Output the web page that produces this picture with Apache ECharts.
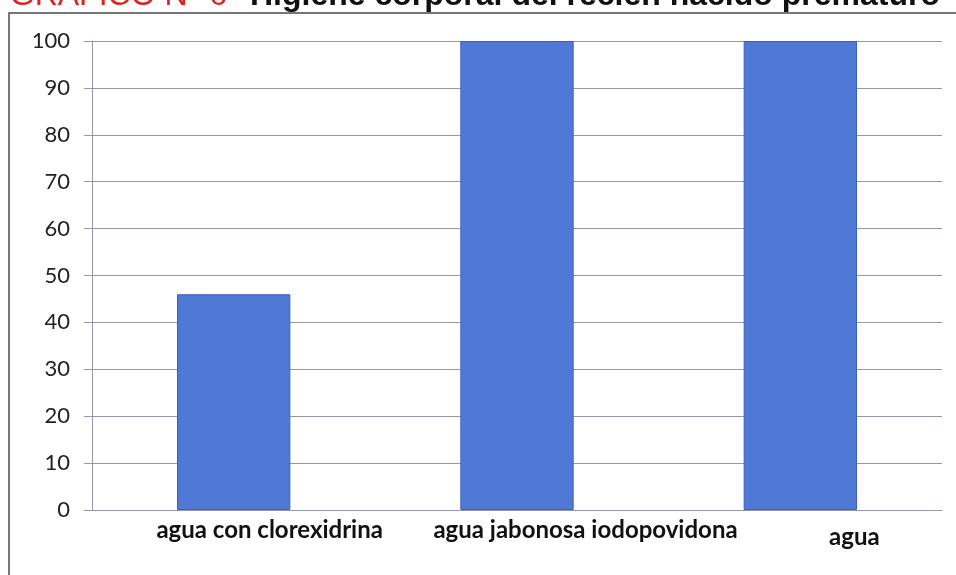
<!DOCTYPE html>
<html>
<head>
<meta charset="utf-8">
<script src="https://cdn.jsdelivr.net/npm/echarts@6/dist/echarts.min.js"></script>
<style>
  html, body { margin: 0; padding: 0; background: #ffffff; }
  #chart { width: 956px; height: 575px; }
</style>
</head>
<body>
<div id="chart"></div>
<script>
// Higiene corporal del recién nacido prematuro — porcentaje por método
const categories = ['agua con clorexidrina', 'agua jabonosa iodopovidona', 'agua'];
const values = [46, 100, 100];
const yTicks = [0, 10, 20, 30, 40, 50, 60, 70, 80, 90, 100];

const titleRed = 'GRÁFICO N° 6';
const titleBlack = 'Higiene corporal del recién nacido prematuro';

// per-label rich style keys so each category label can be nudged
const labelStyles = ['l0', 'l1', 'l2'];

const gridColor = '#9696aa';
const labelFont = { fontFamily: 'Lato', fontWeight: 'bold', fontSize: 24, color: '#111' };

const chart = echarts.init(document.getElementById('chart'), null, { renderer: 'canvas' });

chart.setOption({
  backgroundColor: '#ffffff',
  animation: false,
  grid: { left: 92, right: 14, top: 41, bottom: 65, containLabel: false },
  xAxis: {
    type: 'category',
    data: categories,
    axisLine: { show: true, lineStyle: { color: gridColor, width: 1 } },
    axisTick: { show: false },
    axisLabel: {
      interval: 0,
      margin: 8,
      formatter: function (value, idx) {
        return '{' + labelStyles[idx] + '|' + value + '}';
      },
      rich: {
        l0: Object.assign({ padding: [0, 0, 0, 72] }, labelFont),
        l1: Object.assign({ padding: [0, 0, 0, 137] }, labelFont),
        l2: Object.assign({ padding: [7, 0, 0, 108] }, labelFont)
      }
    }
  },
  yAxis: {
    type: 'value',
    min: yTicks[0],
    max: yTicks[yTicks.length - 1],
    interval: yTicks[1] - yTicks[0],
    axisLine: { show: true, lineStyle: { color: gridColor, width: 1 } },
    axisTick: { show: true, length: 8, lineStyle: { color: gridColor, width: 1 } },
    splitLine: { show: true, lineStyle: { color: gridColor, width: 1 } },
    axisLabel: {
      margin: 22,
      fontFamily: 'Lato',
      fontSize: 22,
      color: '#222'
    }
  },
  series: [{
    type: 'bar',
    data: values,
    barWidth: '40%',
    itemStyle: { color: '#5079d6', borderColor: '#3a5ec6', borderWidth: 1 }
  }],
  graphic: [
    {
      type: 'rect',
      silent: true,
      z: 100,
      shape: { x: 9, y: 13, width: 1000, height: 700 },
      style: { fill: 'none', stroke: '#4a4a4a', lineWidth: 1.5 }
    },
    {
      type: 'text',
      silent: true,
      z: 101,
      x: 227,
      y: 12,
      style: {
        text: titleRed,
        align: 'right',
        verticalAlign: 'bottom',
        fontFamily: 'Liberation Sans',
        fontSize: 32,
        fill: '#e0211c'
      }
    },
    {
      type: 'text',
      silent: true,
      z: 101,
      x: 250,
      y: 12,
      style: {
        text: titleBlack,
        align: 'left',
        verticalAlign: 'bottom',
        fontFamily: 'Liberation Sans',
        fontWeight: 'bold',
        fontSize: 32,
        fill: '#111'
      }
    }
  ]
});
</script>
</body>
</html>
